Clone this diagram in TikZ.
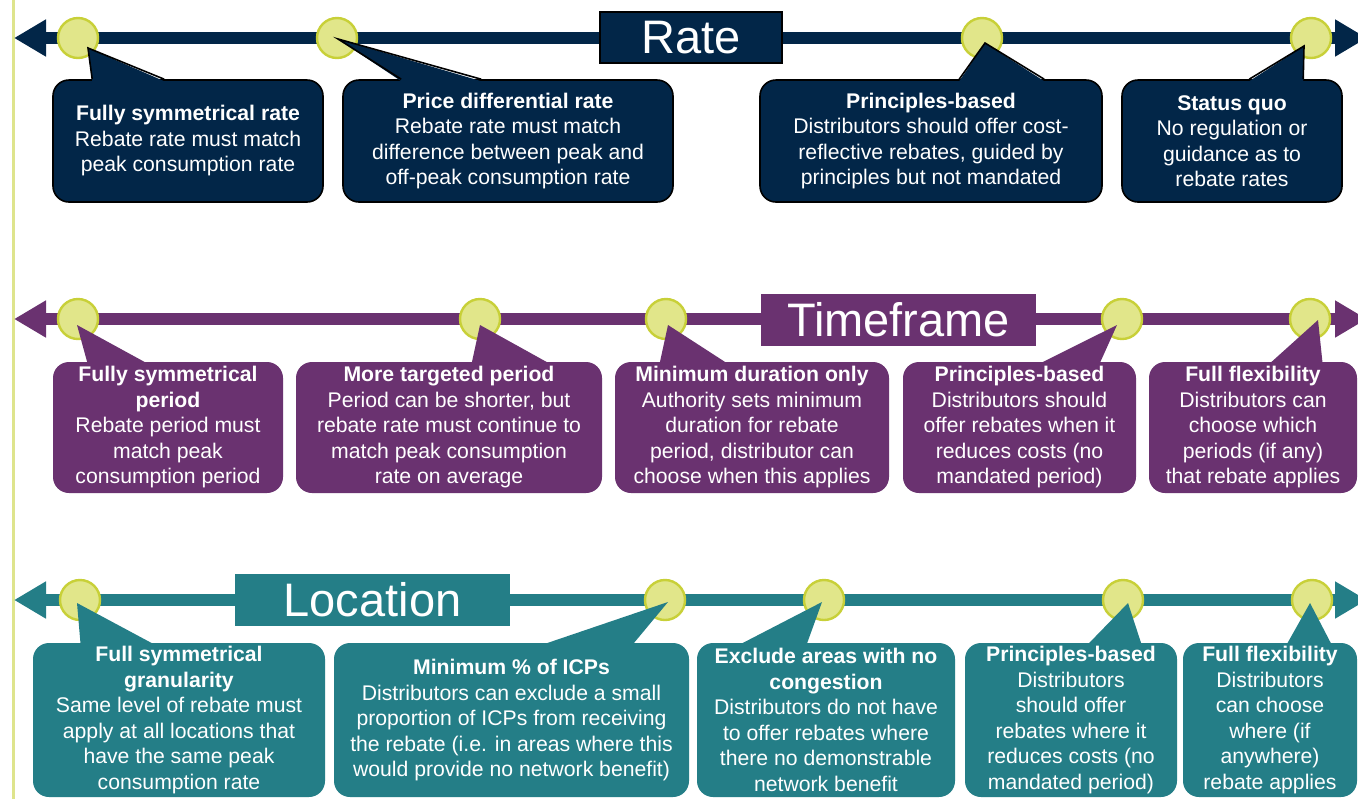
\documentclass[tikz,border=0pt]{standalone}
\usepackage{fontspec}
\setmainfont{Liberation Sans}
\usepackage{tikz}
\usetikzlibrary{arrows.meta, calc}

\definecolor{ratecol}{RGB}{2,38,72}
\definecolor{timecol}{RGB}{106,50,112}
\definecolor{loccol}{RGB}{36,126,135}
\definecolor{dotfill}{RGB}{225,230,138}
\definecolor{dotring}{RGB}{200,208,56}
\definecolor{sideline}{RGB}{222,228,140}

\newcommand{\optfont}{\fontsize{10.6}{12.75}\selectfont}
\newcommand{\headfont}{\fontsize{23.5}{28}\selectfont}

\tikzset{
  axisline/.style = {line width=6pt,
                     {Triangle[length=16pt,width=17.5pt]}-{Triangle[length=16pt,width=17.5pt]}},
  stopdot/.style  = {circle, fill=dotfill, draw=dotring, line width=1.2pt,
                     minimum size=20pt, inner sep=0pt},
  boxsize/.style 2 args = {minimum width=#1*0.5pt, minimum height=#2*0.5pt},
  optbox/.style   = {rectangle, rounded corners=8pt, align=center, text=white,
                     inner sep=0pt, font=\optfont},
  ratebox/.style  = {optbox, fill=ratecol, draw=black, line width=0.8pt},
  timebox/.style  = {optbox, fill=timecol},
  locbox/.style   = {optbox, fill=loccol},
  titlebox/.style = {rectangle, text=white, inner sep=0pt, font=\headfont},
  tailedge/.style = {draw=black, line width=0.8pt, line join=miter},
}

\begin{document}
\begin{tikzpicture}[x=0.5pt, y=-0.5pt]
  \useasboundingbox (0,0) rectangle (1358,799);
  \clip (0,0) rectangle (1358,799);
  \fill[white] (0,0) rectangle (1358,799);
  \draw[sideline, line width=1.5pt] (13,0) -- (13,799);

  % ---- Rate ----
  \coordinate (rL) at (14,38);
  \coordinate (rR) at (1367,38);
  \draw[axisline, ratecol] (rL) -- (rR);
  \node[titlebox, fill=ratecol, draw=black, line width=0.8pt, boxsize={182}{51}]
    (ratetitle) at (691,37.5) {Rate};
  \node[stopdot] (rd1) at (78,38) {};
  \node[stopdot] (rd2) at (337,38) {};
  \node[stopdot] (rd3) at (982,38) {};
  \node[stopdot] (rd4) at (1311,38) {};
  \node[ratebox, boxsize={270}{122}] (rb1) at (188,141)
    {\textbf{Fully symmetrical rate}\\Rebate rate must match\\peak consumption rate};
  \node[ratebox, boxsize={330}{122}] (rb2) at (508,141)
    {\textbf{Price differential rate}\\Rebate rate must match\\difference between peak and\\off-peak consumption rate};
  \node[ratebox, boxsize={342}{122}] (rb3) at (931,141)
    {\textbf{Principles-based}\\Distributors should offer cost-\\reflective rebates, guided by\\principles but not mandated};
  \node[ratebox, boxsize={220}{122}] (rb4) at (1232,141)
    {\textbf{Status quo}\\No regulation or\\guidance as to\\rebate rates};
  \fill[ratecol] ($(rb1.north west)+(40,2)$) -- ($(rd1)+(10,10)$) -- ($(rb1.north west)+(112,2)$) -- cycle;
  \path[tailedge] ($(rb1.north west)+(40,0)$) -- ($(rd1)+(10,10)$) -- ($(rb1.north west)+(112,0)$);
  \fill[ratecol] ($(rb2.north west)+(59,2)$) -- ($(rd2)+(1,1)$) -- ($(rb2.north west)+(139,2)$) -- cycle;
  \path[tailedge] ($(rb2.north west)+(59,0)$) -- ($(rd2)+(1,1)$) -- ($(rb2.north west)+(139,0)$);
  \fill[ratecol] ($(rb3.north west)+(200,2)$) -- ($(rd3)+(3,5)$) -- ($(rb3.north west)+(285,2)$) -- cycle;
  \path[tailedge] ($(rb3.north west)+(200,0)$) -- ($(rd3)+(3,5)$) -- ($(rb3.north west)+(285,0)$);
  \fill[ratecol] ($(rb4.north west)+(128,2)$) -- ($(rd4)+(-7,8)$) -- ($(rb4.north west)+(182,2)$) -- cycle;
  \path[tailedge] ($(rb4.north west)+(128,0)$) -- ($(rd4)+(-7,8)$) -- ($(rb4.north west)+(182,0)$);

  % ---- Timeframe ----
  \coordinate (tL) at (14,319);
  \coordinate (tR) at (1367,319);
  \draw[axisline, timecol] (tL) -- (tR);
  \node[titlebox, fill=timecol, boxsize={275}{52}] (timetitle) at (898.5,320) {Timeframe};
  \node[stopdot] (td1) at (78,319) {};
  \node[stopdot] (td2) at (480,319) {};
  \node[stopdot] (td3) at (666,319) {};
  \node[stopdot] (td4) at (1122,319) {};
  \node[stopdot] (td5) at (1310,319) {};
  \node[timebox, boxsize={230}{131}] (tb1) at (168,427.5)
    {\textbf{Fully symmetrical}\\\textbf{period}\\Rebate period must\\match peak\\consumption period};
  \node[timebox, boxsize={306}{131}] (tb2) at (449,427.5)
    {\textbf{More targeted period}\\Period can be shorter, but\\rebate rate must continue to\\match peak consumption\\rate on average};
  \node[timebox, boxsize={274}{131}] (tb3) at (752,427.5)
    {\textbf{Minimum duration only}\\Authority sets minimum\\duration for rebate\\period, distributor can\\choose when this applies};
  \node[timebox, boxsize={233}{131}] (tb4) at (1019.5,427.5)
    {\textbf{Principles-based}\\Distributors should\\offer rebates when it\\reduces costs (no\\mandated period)};
  \node[timebox, boxsize={208}{131}] (tb5) at (1253,427.5)
    {\textbf{Full flexibility}\\Distributors can\\choose which\\periods (if any)\\that rebate applies};
  \fill[timecol] ($(tb1.north west)+(35,2)$) -- ($(td1)+(-1,6)$) -- ($(tb1.north west)+(95,2)$) -- cycle;
  \fill[timecol] ($(tb2.north west)+(176,2)$) -- ($(td2)+(0,6)$) -- ($(tb2.north west)+(254,2)$) -- cycle;
  \fill[timecol] ($(tb3.north west)+(45,2)$) -- ($(td3)+(2,6)$) -- ($(tb3.north west)+(113,2)$) -- cycle;
  \fill[timecol] ($(tb4.north west)+(137,2)$) -- ($(td4)+(-5,6)$) -- ($(tb4.north west)+(197,2)$) -- cycle;
  \fill[timecol] ($(tb5.north west)+(121,2)$) -- ($(td5)+(8,1)$) -- ($(tb5.north west)+(174,2)$) -- cycle;

  % ---- Location ----
  \coordinate (lL) at (14,600);
  \coordinate (lR) at (1367,600);
  \draw[axisline, loccol] (lL) -- (lR);
  \node[titlebox, fill=loccol, boxsize={275}{52}] (loctitle) at (372.5,600) {Location};
  \node[stopdot] (ld1) at (80,600) {};
  \node[stopdot] (ld2) at (665,600) {};
  \node[stopdot] (ld3) at (824,600) {};
  \node[stopdot] (ld4) at (1123,600) {};
  \node[stopdot] (ld5) at (1312,600) {};
  \node[locbox, boxsize={292}{154}] (lb1) at (179,720)
    {\textbf{Full symmetrical}\\\textbf{granularity}\\Same level of rebate must\\apply at all locations that\\have the same peak\\consumption rate};
  \node[locbox, boxsize={355}{154}] (lb2) at (511.5,720)
    {\textbf{Minimum \% of ICPs}\\Distributors can exclude a small\\proportion of ICPs from receiving\\the rebate (i.e. in areas where this\\would provide no network benefit)};
  \node[locbox, boxsize={258}{154}] (lb3) at (826,720)
    {\textbf{Exclude areas with no}\\\textbf{congestion}\\Distributors do not have\\to offer rebates where\\there no demonstrable\\network benefit};
  \node[locbox, boxsize={212}{154}] (lb4) at (1071,720)
    {\textbf{Principles-based}\\Distributors\\should offer\\rebates where it\\reduces costs (no\\mandated period)};
  \node[locbox, boxsize={174}{154}] (lb5) at (1270,720)
    {\textbf{Full flexibility}\\Distributors\\can choose\\where (if\\anywhere)\\rebate applies};
  \fill[loccol] ($(lb1.north west)+(48,2)$) -- ($(ld1)+(-3,3)$) -- ($(lb1.north west)+(122,2)$) -- cycle;
  \fill[loccol] ($(lb2.north west)+(209,2)$) -- ($(ld2)+(3,2)$) -- ($(lb2.north west)+(299,2)$) -- cycle;
  \fill[loccol] ($(lb3.north west)+(43,2)$) -- ($(ld3)+(-2,2)$) -- ($(lb3.north west)+(110,2)$) -- cycle;
  \fill[loccol] ($(lb4.north west)+(123,2)$) -- ($(ld4)+(5,3)$) -- ($(lb4.north west)+(177,2)$) -- cycle;
  \fill[loccol] ($(lb5.north west)+(104,2)$) -- ($(ld5)+(-2,3)$) -- ($(lb5.north west)+(149,2)$) -- cycle;
\end{tikzpicture}
\end{document}
